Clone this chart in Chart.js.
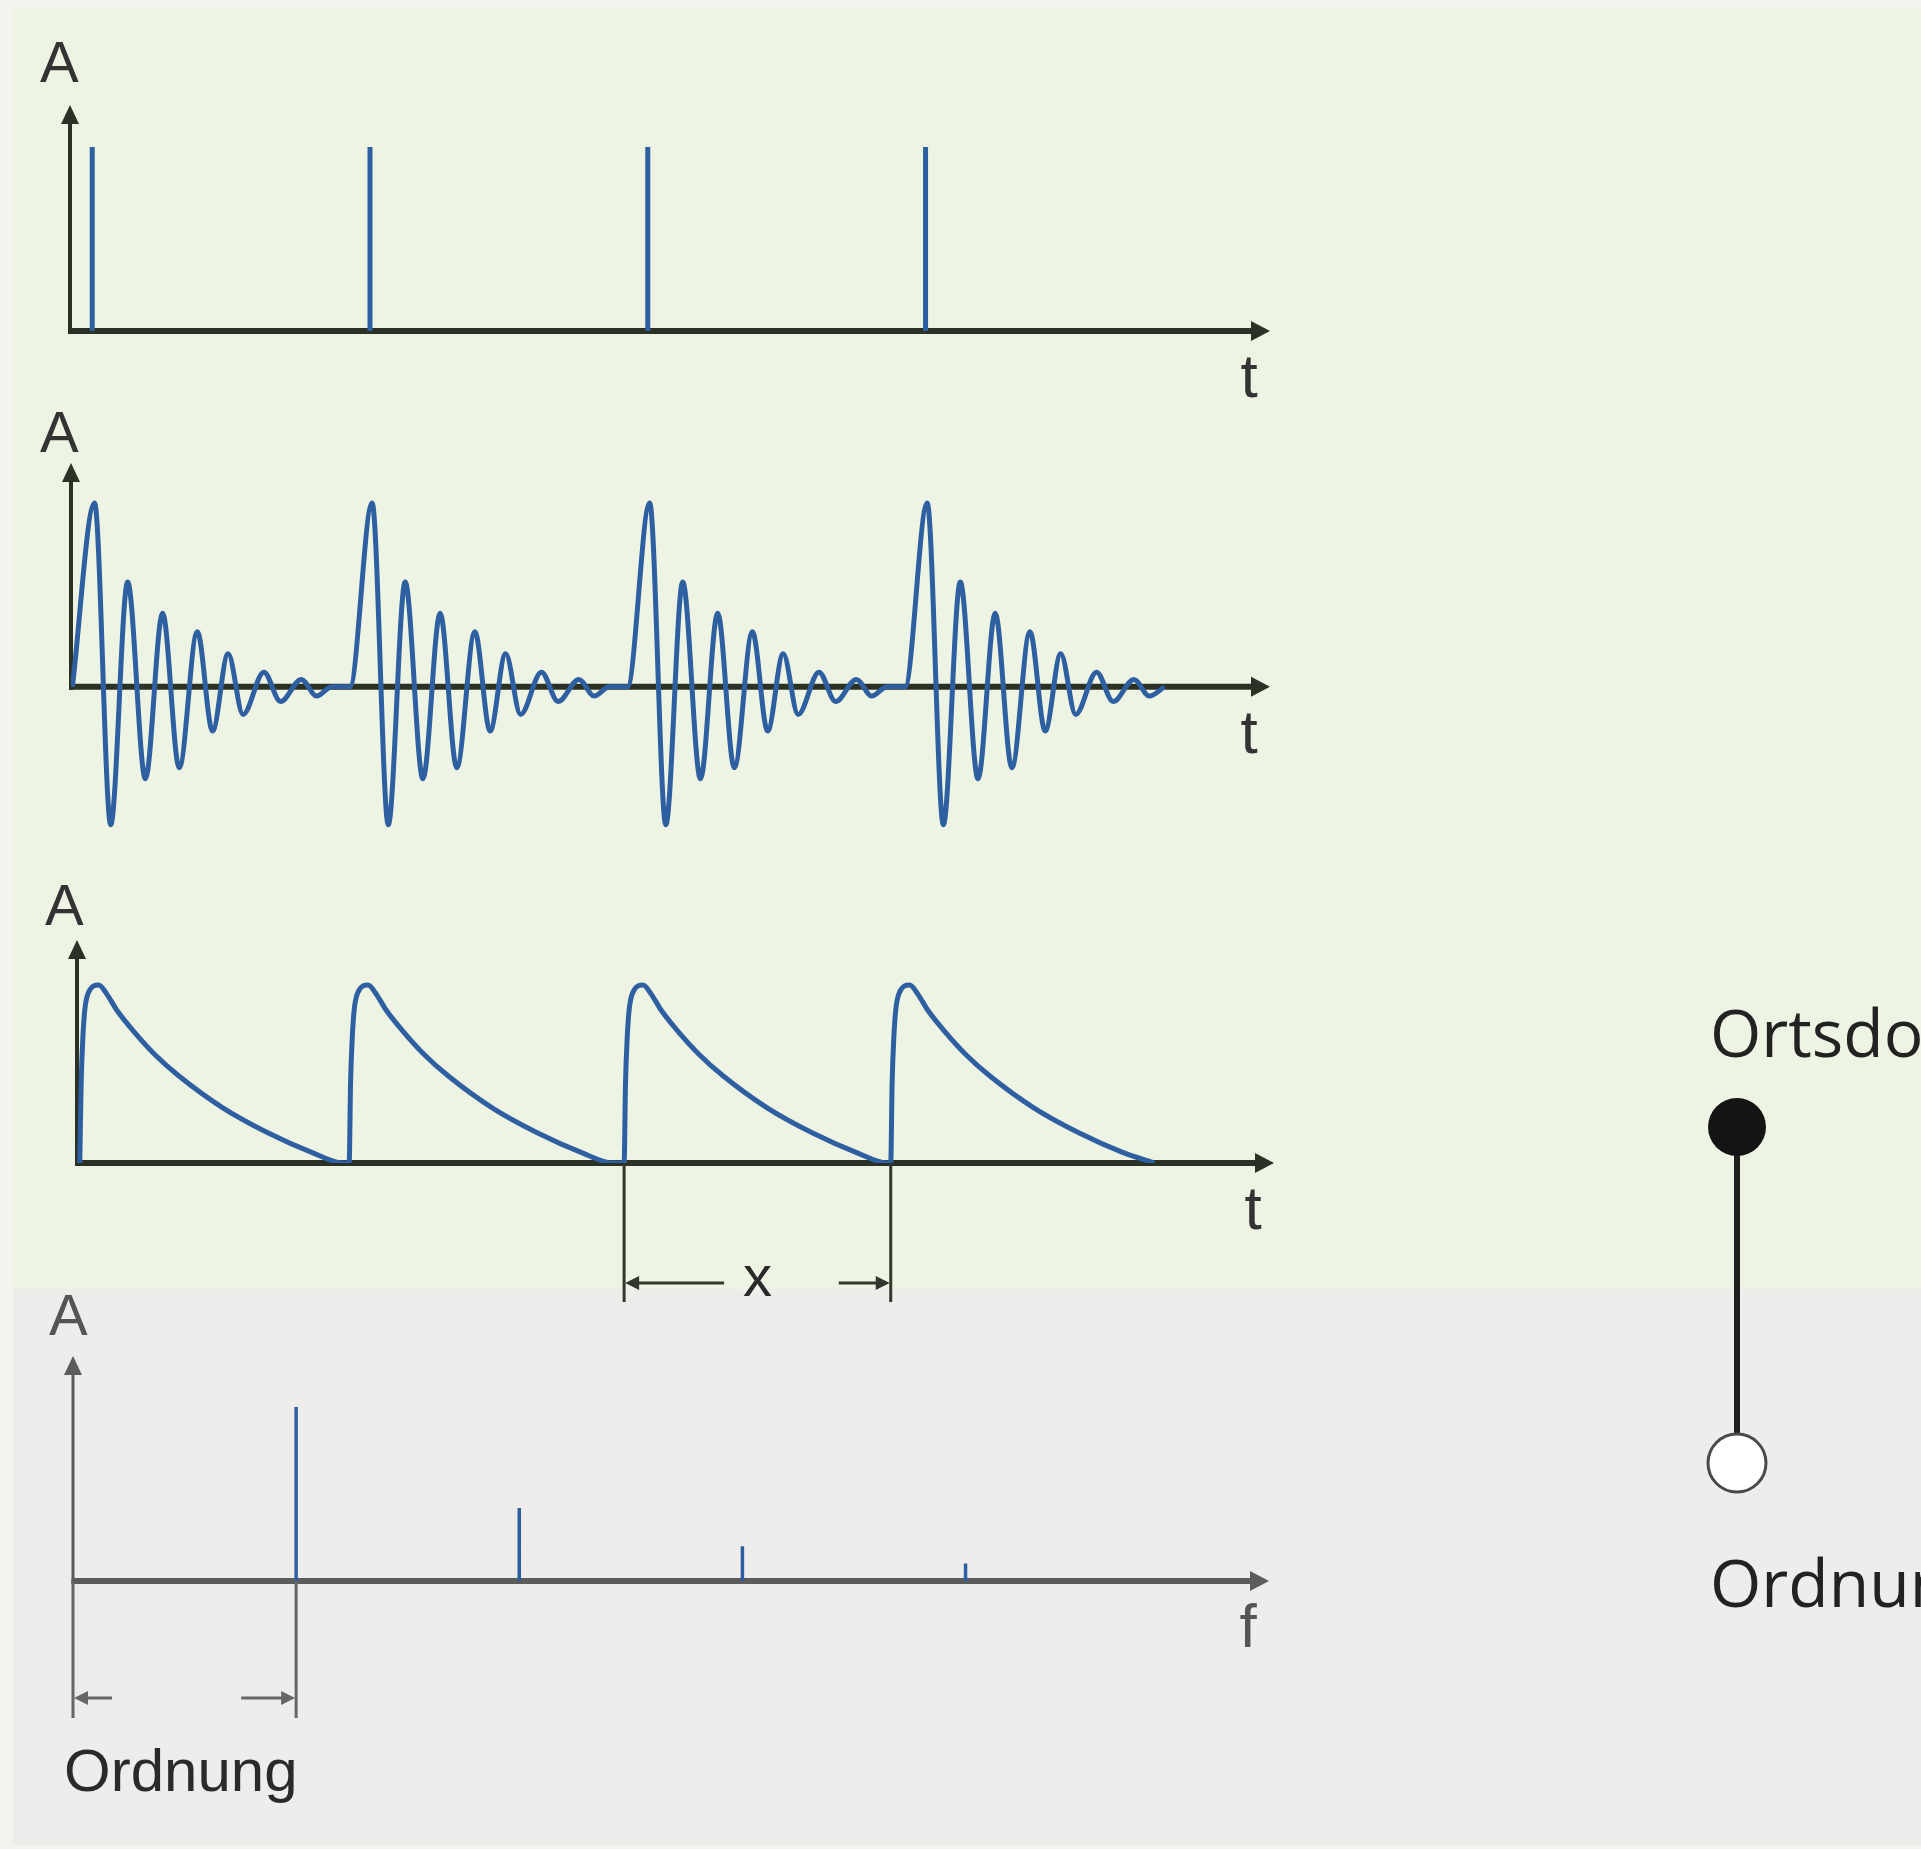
<!DOCTYPE html>
<html>
<head>
<meta charset="utf-8">
<script src="https://cdn.jsdelivr.net/npm/chart.js@4.4.0/dist/chart.umd.min.js"></script>
<style>
  body { margin: 0; background: #f3f4ef; width: 1921px; height: 1849px; position: relative; overflow: hidden; }
  .bg { position: absolute; }
  canvas { position: absolute; }
</style>
</head>
<body>
<div class="bg" style="left:13px;top:8px;width:1908px;height:1281px;background:#eef4e3"></div>
<div class="bg" style="left:13px;top:1289px;width:1908px;height:556px;background:#eeedeb"></div>
<canvas id="c1" width="1921" height="420" style="left:0;top:0"></canvas>
<canvas id="c2" width="1921" height="480" style="left:0;top:400px"></canvas>
<canvas id="c3" width="1921" height="440" style="left:0;top:880px"></canvas>
<canvas id="c4" width="1921" height="569" style="left:0;top:1280px"></canvas>
<canvas id="c5" width="321" height="720" style="left:1600px;top:950px"></canvas>
<script>
// impulses (time in ms, amplitude relative)
const spikeTimes = [0.8, 10.8, 20.8, 30.8];
const spikeHeights = [1, 1, 1, 1];

// ringing response of one impulse, offset from impulse time
const burstOffsets = [-0.75, 0.05, 0.63, 1.24, 1.88, 2.5, 3.1, 3.75, 4.3, 4.86, 5.4, 6.15, 6.75, 7.5, 8.05, 8.6];
const burstValues = [0, 1.0, -0.75, 0.57, -0.50, 0.40, -0.44, 0.30, -0.24, 0.18, -0.15, 0.08, -0.08, 0.04, -0.05, 0];

// envelope after demodulation
const envStarts = [0.1, 9.8, 19.7, 29.3];
const envOffsets = [0, 0.05, 0.11, 0.18, 0.32, 0.68, 0.97, 1.33, 1.94, 2.7, 3.56, 5.15, 6.77, 8.35, 9.5];
const envValues = [0, 0.45, 0.7, 0.86, 0.96, 1.0, 0.95, 0.86, 0.74, 0.61, 0.49, 0.31, 0.17, 0.06, 0];

// order spectrum
const orders = [1, 2, 3, 4];
const orderAmps = [1.0, 0.42, 0.20, 0.10];

// domains on the right
const domains = ['Ortsdomäne', 'Ordnungsdomäne'];
const domainLevels = [1, 0];

const blue = '#2e5fa0';
const dark = '#2c3126';
const grey = '#5c5c5c';
const labelFont = '58px "Liberation Sans", Arial, sans-serif';

const stems = (xs, ys) => {
    const pts = [];
    xs.forEach((x, i) => {
        pts.push({x: x, y: 0}, {x: x, y: ys[i]}, {x: x, y: null});
    });
    return pts;
};

const repeatShape = (starts, offsets, values) => {
    const pts = [];
    starts.forEach((s) => {
        offsets.forEach((o, i) => pts.push({x: s + o, y: values[i]}));
    });
    return pts;
};

const head = (ctx, x, y, dir, len, half) => {
    ctx.beginPath();
    if (dir == 'up') {
        ctx.moveTo(x, y); ctx.lineTo(x - half, y + len); ctx.lineTo(x + half, y + len);
    } else if (dir == 'right') {
        ctx.moveTo(x, y); ctx.lineTo(x - len, y - half); ctx.lineTo(x - len, y + half);
    } else {
        ctx.moveTo(x, y); ctx.lineTo(x + len, y - half); ctx.lineTo(x + len, y + half);
    }
    ctx.closePath();
    ctx.fill();
};

const arrowAxes = {
    id: 'arrowAxes',
    beforeDatasetsDraw(chart, args, o) {
        if (!o.color) return;
        const {ctx, chartArea: a, scales} = chart;
        const y0 = scales.y.getPixelForValue(0);
        ctx.save();
        ctx.strokeStyle = o.color;
        ctx.fillStyle = o.color;
        ctx.lineCap = 'butt';
        ctx.lineWidth = o.yWidth;
        ctx.beginPath();
        ctx.moveTo(a.left, y0 + o.xWidth / 2);
        ctx.lineTo(a.left, a.top + 14);
        ctx.stroke();
        head(ctx, a.left, a.top, 'up', 19, 9);
        ctx.lineWidth = o.xWidth;
        ctx.beginPath();
        ctx.moveTo(a.left - o.yWidth / 2, y0);
        ctx.lineTo(a.right - 14, y0);
        ctx.stroke();
        head(ctx, a.right, y0, 'right', 19, 10);

        ctx.fillStyle = o.textColor;
        ctx.font = labelFont;
        ctx.textAlign = 'left';
        ctx.fillText(o.yLabel, a.left + o.yDx, a.top + o.yDy);
        ctx.textAlign = 'center';
        ctx.font = '62px "Liberation Sans", Arial, sans-serif';
        ctx.fillText(o.xLabel, a.right - 21, y0 + 66);
        ctx.restore();
    }
};

const dims = {
    id: 'dims',
    afterDraw(chart, args, o) {
        if (!o.color) return;
        const {ctx, scales} = chart;
        const y0 = scales.y.getPixelForValue(0);
        const x1 = scales.x.getPixelForValue(o.from);
        const x2 = scales.x.getPixelForValue(o.to);
        ctx.save();
        ctx.strokeStyle = o.color;
        ctx.fillStyle = o.color;
        ctx.lineWidth = 3;
        ctx.beginPath();
        ctx.moveTo(x1, y0); ctx.lineTo(x1, y0 + o.drop);
        ctx.moveTo(x2, y0); ctx.lineTo(x2, y0 + o.drop);
        const ay = y0 + o.arrowY;
        ctx.moveTo(x1 + 8, ay); ctx.lineTo(x1 + o.leftLen, ay);
        ctx.moveTo(x2 - o.rightLen, ay); ctx.lineTo(x2 - 8, ay);
        ctx.stroke();
        head(ctx, x1 + 1, ay, 'left', 14, 7);
        head(ctx, x2 - 1, ay, 'right', 14, 7);
        ctx.fillStyle = o.textColor;
        ctx.font = o.font;
        ctx.textAlign = o.align;
        const tx = o.align == 'center' ? (x1 + x2) / 2 : o.textX;
        ctx.fillText(o.label, tx, y0 + o.textY);
        ctx.restore();
    }
};

const domainLabels = {
    id: 'domainLabels',
    afterDraw(chart, args, o) {
        if (!o.labels) return;
        const {ctx} = chart;
        const meta = chart.getDatasetMeta(0);
        ctx.save();
        ctx.fillStyle = '#222';
        ctx.font = '66px "Open Sans", "Noto Sans", sans-serif';
        ctx.textAlign = 'left';
        meta.data.forEach((pt, i) => {
            ctx.fillText(o.labels[i], pt.x - 27, pt.y + o.dy[i]);
        });
        ctx.restore();
    }
};

Chart.register(arrowAxes, dims, domainLabels);

const baseOptions = (pad, xMin, xMax, yMin, yMax, extra) => ({
    responsive: false,
    animation: false,
    devicePixelRatio: 1,
    layout: { padding: pad },
    scales: {
        x: { type: 'linear', display: false, min: xMin, max: xMax },
        y: { type: 'linear', display: false, min: yMin, max: yMax }
    },
    plugins: Object.assign({ legend: { display: false }, tooltip: { enabled: false } }, extra)
});

// panel 1: impulses
new Chart(document.querySelector('#c1'), {
    type: 'line',
    data: { datasets: [{
        data: stems(spikeTimes, spikeHeights),
        borderColor: blue, borderWidth: 5, pointRadius: 0, spanGaps: false, borderCapStyle: 'butt'
    }] },
    options: baseOptions({left: 70, right: 651, top: 105, bottom: 89}, 0, 43.2, 0, 1.228, {
        arrowAxes: { color: dark, textColor: '#333', xWidth: 6, yWidth: 4, yLabel: 'A', yDx: -30, yDy: -23, xLabel: 't' }
    })
});

// panel 2: ringing
new Chart(document.querySelector('#c2'), {
    type: 'line',
    data: { datasets: [{
        data: repeatShape(spikeTimes, burstOffsets, burstValues),
        borderColor: blue, borderWidth: 5, pointRadius: 0, cubicInterpolationMode: 'monotone'
    }] },
    options: baseOptions({left: 71, right: 651, top: 63, bottom: 46}, 0, 43.2, -0.8, 1.217, {
        arrowAxes: { color: dark, textColor: '#333', xWidth: 6, yWidth: 4, yLabel: 'A', yDx: -31, yDy: -11, xLabel: 't' }
    })
});

// panel 3: envelope
new Chart(document.querySelector('#c3'), {
    type: 'line',
    data: { datasets: [{
        data: repeatShape(envStarts, envOffsets, envValues),
        borderColor: blue, borderWidth: 5, pointRadius: 0, cubicInterpolationMode: 'monotone'
    }] },
    options: baseOptions({left: 77, right: 647, top: 60, bottom: 157}, 0, 43.1, 0, 1.253, {
        arrowAxes: { color: dark, textColor: '#333', xWidth: 6, yWidth: 4, yLabel: 'A', yDx: -32, yDy: -15, xLabel: 't' },
        dims: { color: '#33372e', textColor: '#2a2a2a', from: envStarts[2], to: envStarts[3], drop: 139, arrowY: 120,
                leftLen: 100, rightLen: 52, label: 'x', font: '58px "Liberation Sans", Arial, sans-serif',
                align: 'center', textY: 133 }
    })
});

// panel 4: order spectrum
new Chart(document.querySelector('#c4'), {
    type: 'line',
    data: { datasets: [{
        data: stems(orders, orderAmps),
        borderColor: blue, borderWidth: 3.5, pointRadius: 0, spanGaps: false, borderCapStyle: 'butt'
    }] },
    options: baseOptions({left: 73, right: 652, top: 76, bottom: 268}, 0, 5.36, 0, 1.293, {
        arrowAxes: { color: grey, textColor: '#555', xWidth: 6, yWidth: 3, yLabel: 'A', yDx: -24, yDy: -21, xLabel: 'f' },
        dims: { color: '#666', textColor: '#2a2a2a', from: 0, to: orders[0], drop: 137, arrowY: 117,
                leftLen: 39, rightLen: 55, label: 'Ordnung', font: '60px "Liberation Sans", Arial, sans-serif',
                align: 'left', textX: 64, textY: 210 }
    })
});

// right: domain switch
new Chart(document.querySelector('#c5'), {
    type: 'line',
    data: { datasets: [{
        data: domainLevels.map((v) => ({x: 0, y: v})),
        borderColor: '#1e1e1e', borderWidth: 6,
        pointRadius: 29, pointBorderWidth: [0, 3],
        pointBackgroundColor: ['#141414', '#ffffff'],
        pointBorderColor: ['#141414', '#4a4a4a'],
        clip: false
    }] },
    options: baseOptions({left: 37, right: 84, top: 177, bottom: 207}, -1, 1, 0, 1, {
        domainLabels: { labels: domains, dy: [-70, 144] }
    })
});
</script>
</body>
</html>
